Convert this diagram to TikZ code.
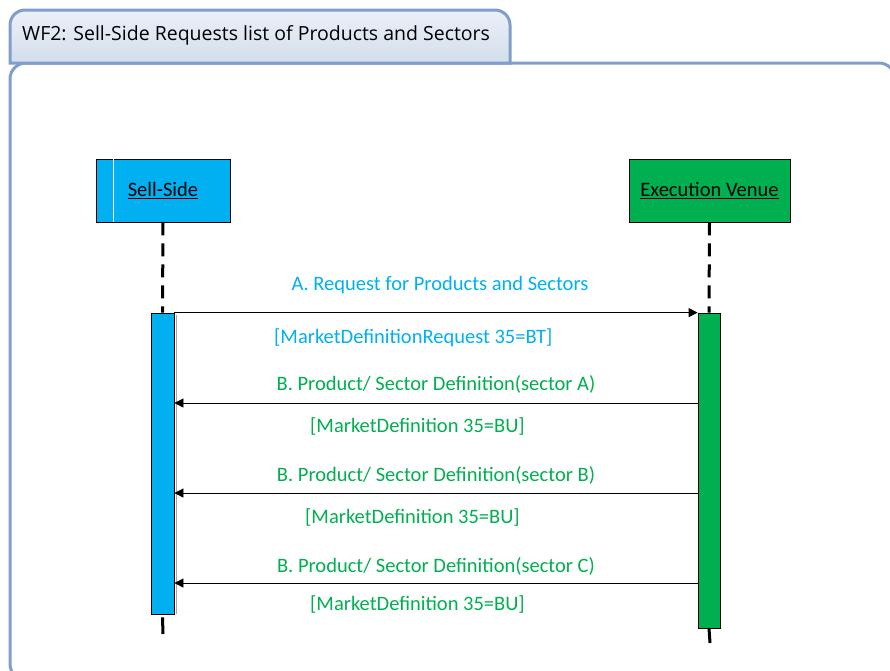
\documentclass[tikz,border=0pt]{standalone}
\usepackage{fontspec}
\setmainfont{Carlito}
\newfontfamily\titlefont{Open Sans}
\usetikzlibrary{arrows.meta}
\definecolor{framec}{HTML}{7F9FCA}
\definecolor{tabtop}{HTML}{EBF0F7}
\definecolor{tabbot}{HTML}{D3DEEC}
\definecolor{ssblue}{HTML}{00B0F0}
\definecolor{evgreen}{HTML}{00B050}
\definecolor{msgblue}{HTML}{00B0F0}
\definecolor{msggreen}{HTML}{00B050}
\tikzset{
  actor/.style={draw=black, line width=0.8pt, minimum height=63pt, inner sep=0pt, font=\fontsize{20.5}{24}\selectfont},
  lifeline/.style={line width=3pt, dash pattern=on 13pt off 8pt},
  actbar/.style={draw=black, line width=0.8pt},
  msg/.style={line width=0.8pt, -{Triangle[length=9pt,width=9pt]}},
  lbl/.style={font=\fontsize{20.5}{24}\selectfont, inner sep=0pt, anchor=center},
}
\begin{document}
\begin{tikzpicture}[x=1pt,y=-1pt]
\useasboundingbox (0,0) rectangle (890,670);
\fill[white] (0,0) rectangle (890,670);
% frame
\draw[framec, line width=3pt, rounded corners=16pt] (10,63) rectangle (895,680);
% tab
\draw[framec, line width=3pt, top color=tabtop, bottom color=tabbot, rounded corners=15pt]
  (10,63) -- (10,10) -- (510,10) [sharp corners]-- (510,63) -- cycle;
\node[anchor=west, inner sep=0pt, font=\titlefont\fontsize{19.5}{23}\selectfont] (title) at (22,35) {WF2: Sell-Side Requests list of Products and Sectors};
% actors
\node[actor, fill=ssblue, minimum width=134pt] (ss) at (163,190.5) {\underline{Sell-Side}};
\draw[white, line width=1pt] ([xshift=18pt]ss.north west) -- ([xshift=18pt]ss.south west);
\node[actor, fill=evgreen, minimum width=161pt] (ev) at (709.5,190.5) {\underline{Execution Venue}};
% activation bars
\fill[gray!70] (176,315) rectangle (176.5,614);
\node[actbar, fill=ssblue, minimum width=23pt, minimum height=301pt, inner sep=0pt] (ssbar) at (162.5,463.5) {};
\node[actbar, fill=evgreen, minimum width=22pt, minimum height=315pt, inner sep=0pt] (evbar) at (709,470.5) {};
% lifelines
\coordinate (ssend) at (163,634);
\coordinate (evend) at (710,643);
\draw[lifeline] (ss.south) -- (ssbar.north);
\draw[lifeline] (ev.south) -- (evbar.north);
\draw[line width=3pt] (ssbar.south) ++(0,3) -- (ssend);
\draw[line width=3pt] (evbar.south) ++(0,0) -- (evend);
% messages
\draw[msg] (ssbar.north east) -- (evbar.north west);
\node[lbl, text=msgblue] (la) at (440,285) {A. Request for Products and Sectors};
\node[lbl, text=msgblue, anchor=west] (la2) at (274,338) {[MarketDefinitionRequest 35=BT]};

\coordinate (b1s) at (evbar.west |- 0,403);
\coordinate (b1e) at (ssbar.east |- 0,403);
\draw[msg] (b1s) -- (b1e);
\node[lbl, text=msggreen] (lb1) at (436,384) {B. Product/ Sector Definition(sector A)};
\node[lbl, text=msggreen, anchor=west] (lb1b) at (310,426) {[MarketDefinition 35=BU]};

\coordinate (b2s) at (evbar.west |- 0,493);
\coordinate (b2e) at (ssbar.east |- 0,493);
\draw[msg] (b2s) -- (b2e);
\node[lbl, text=msggreen] (lb2) at (436,475) {B. Product/ Sector Definition(sector B)};
\node[lbl, text=msggreen, anchor=west] (lb2b) at (305,517) {[MarketDefinition 35=BU]};

\coordinate (b3s) at (evbar.west |- 0,583);
\coordinate (b3e) at (ssbar.east |- 0,583);
\draw[msg] (b3s) -- (b3e);
\node[lbl, text=msggreen] (lb3) at (436,566) {B. Product/ Sector Definition(sector C)};
\node[lbl, text=msggreen, anchor=west] (lb3b) at (310,604) {[MarketDefinition 35=BU]};
\end{tikzpicture}
\end{document}
